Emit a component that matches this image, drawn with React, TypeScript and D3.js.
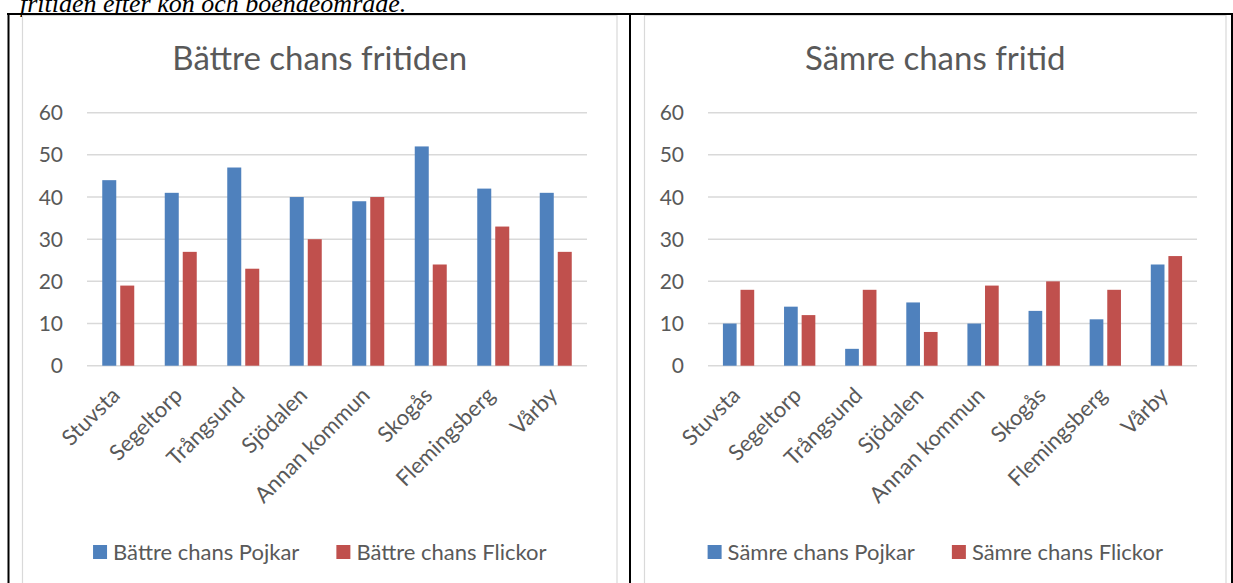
import React, { useEffect, useRef } from 'react';
import * as d3 from 'd3';

// data
const categories = ['Stuvsta', 'Segeltorp', 'Trångsund', 'Sjödalen', 'Annan kommun', 'Skogås', 'Flemingsberg', 'Vårby'];
const battrePojkar = [44, 41, 47, 40, 39, 52, 42, 41];
const battreFlickor = [19, 27, 23, 30, 40, 24, 33, 27];
const samrePojkar = [10, 14, 4, 15, 10, 13, 11, 24];
const samreFlickor = [18, 12, 18, 8, 19, 20, 18, 26];
const yTicks = [0, 10, 20, 30, 40, 50, 60];

const BLUE = '#4F81BD';
const RED = '#C0504D';
const TEXT = '#595959';
const GRID = '#D9D9D9';
const FONT = 'Lato, "Open Sans", sans-serif';

const App: React.FC = () => {
  const svgRef = useRef<SVGSVGElement | null>(null);

  useEffect(() => {
    const width = 1233;
    const height = 583;
    const svg = d3.select(svgRef.current);
    svg.selectAll('*').remove();
    svg.attr('width', width).attr('height', height).attr('viewBox', [0, 0, width, height]);

    svg.append('rect').attr('width', width).attr('height', height).attr('fill', '#fff');

    // the document text above the table, cut off at the top like in the page
    svg.append('text')
      .attr('x', 20)
      .attr('y', 11.5)
      .attr('font-family', '"Liberation Serif", "Times New Roman", serif')
      .attr('font-style', 'italic')
      .attr('font-size', 26)
      .attr('fill', '#000')
      .text('fritiden efter kön och boendeområde.');

    const panels = [
      {
        frame: [22.5, 617], plot: [87, 587],
        title: 'Bättre chans fritiden',
        series: [
          { name: 'Bättre chans Pojkar', values: battrePojkar, color: BLUE },
          { name: 'Bättre chans Flickor', values: battreFlickor, color: RED },
        ],
      },
      {
        frame: [644.5, 1226], plot: [708, 1197],
        title: 'Sämre chans fritid',
        series: [
          { name: 'Sämre chans Pojkar', values: samrePojkar, color: BLUE },
          { name: 'Sämre chans Flickor', values: samreFlickor, color: RED },
        ],
      },
    ];

    const plotTop = 112.7;
    const plotBottom = 365.7;

    panels.forEach(p => {
      const g = svg.append('g');
      const [fx0, fx1] = p.frame;
      const [px0, px1] = p.plot;

      // chart frame
      g.append('rect')
        .attr('x', fx0)
        .attr('y', 15.5)
        .attr('width', fx1 - fx0)
        .attr('height', 600)
        .attr('fill', '#fff')
        .attr('stroke', GRID)
        .attr('stroke-width', 1.2);

      // title
      g.append('text')
        .attr('x', (fx0 + fx1) / 2)
        .attr('y', 70)
        .attr('text-anchor', 'middle')
        .attr('font-family', FONT)
        .attr('font-size', 33)
        .attr('fill', TEXT)
        .text(p.title);

      const y = d3.scaleLinear().domain([0, 60]).range([plotBottom, plotTop]);
      const x0 = d3.scaleBand<string>()
        .domain(categories)
        .range([px0, px1])
        .paddingInner(0.488)
        .paddingOuter(0.244);
      const x1 = d3.scaleBand<number>()
        .domain([0, 1])
        .range([0, x0.bandwidth()])
        .paddingInner(0.222);

      // gridlines
      g.append('g')
        .selectAll('line')
        .data(yTicks)
        .join('line')
        .attr('x1', px0)
        .attr('x2', px1)
        .attr('y1', d => y(d))
        .attr('y2', d => y(d))
        .attr('stroke', GRID)
        .attr('stroke-width', 1.5);

      // y tick labels
      g.append('g')
        .selectAll('text')
        .data(yTicks)
        .join('text')
        .attr('x', px0 - 24)
        .attr('y', d => y(d))
        .attr('dy', '0.36em')
        .attr('text-anchor', 'end')
        .attr('font-family', FONT)
        .attr('font-size', 21)
        .attr('fill', TEXT)
        .text(d => d);

      // bars
      p.series.forEach((s, si) => {
        g.append('g')
          .selectAll('rect')
          .data(s.values)
          .join('rect')
          .attr('x', (d, i) => x0(categories[i])! + x1(si)!)
          .attr('y', d => y(d))
          .attr('width', x1.bandwidth())
          .attr('height', d => y(0) - y(d))
          .attr('fill', s.color);
      });

      // category labels, rotated
      g.append('g')
        .selectAll('text')
        .data(categories)
        .join('text')
        .attr('transform', d => `translate(${x0(d)! + x0.bandwidth() / 2 + 3},${plotBottom + 31}) rotate(-45)`)
        .attr('text-anchor', 'end')
        .attr('font-family', FONT)
        .attr('font-size', 22)
        .attr('fill', TEXT)
        .text(d => d);

      // legend, centred in the frame
      const legend = g.append('g');
      let cursor = 0;
      p.series.forEach((s, si) => {
        const item = legend.append('g').attr('transform', `translate(${cursor},0)`);
        item.append('rect')
          .attr('x', 0)
          .attr('y', -7)
          .attr('width', 14)
          .attr('height', 14)
          .attr('fill', s.color);
        const t = item.append('text')
          .attr('x', 20)
          .attr('y', 0)
          .attr('dy', '0.36em')
          .attr('font-family', FONT)
          .attr('font-size', 22)
          .attr('fill', TEXT)
          .text(s.name);
        const w = (t.node() as SVGTextElement).getComputedTextLength();
        cursor += 20 + w + (si === 0 ? 37 : 0);
      });
      legend.attr('transform', `translate(${(fx0 + fx1) / 2 - cursor / 2},552)`);
    });

    // table borders
    const border = svg.append('g').attr('stroke', '#000').attr('stroke-width', 2);
    border.append('line').attr('x1', 7).attr('x2', width).attr('y1', 14).attr('y2', 14);
    border.append('line').attr('x1', 8.5).attr('x2', 8.5).attr('y1', 13).attr('y2', height);
    border.append('line').attr('x1', 630).attr('x2', 630).attr('y1', 13).attr('y2', height);
    border.append('line').attr('x1', 1232).attr('x2', 1232).attr('y1', 13).attr('y2', height);
  }, []);

  return (
    <svg ref={svgRef} style={{ position: 'absolute', left: 0, top: 0, display: 'block' }}></svg>
  );
};

export default App;
